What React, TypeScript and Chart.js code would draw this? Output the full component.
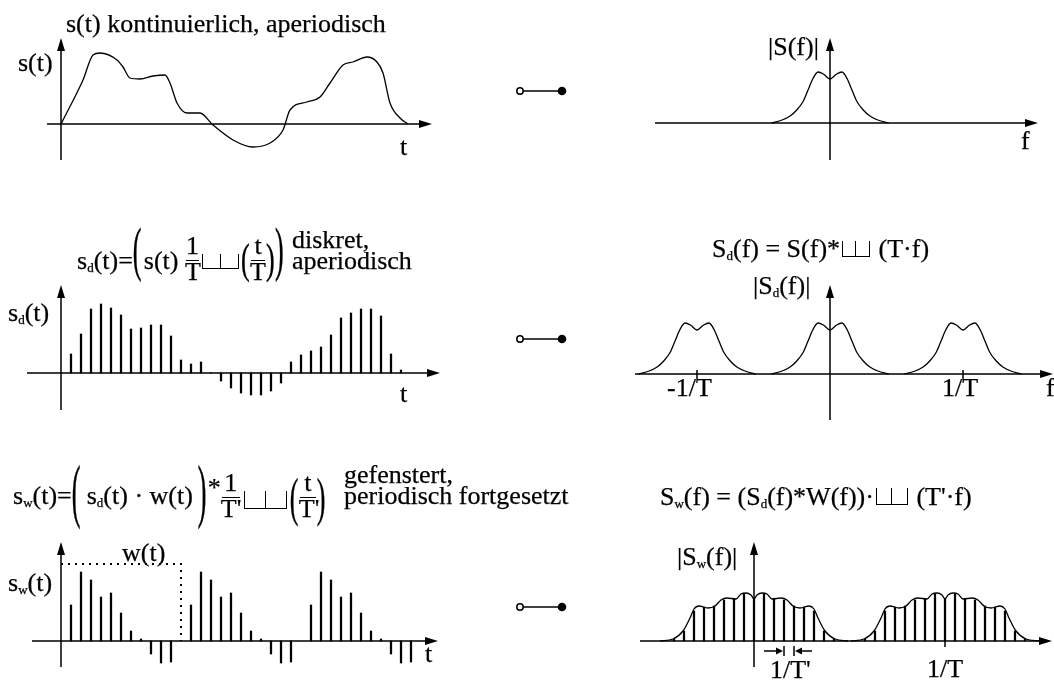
import React, { useEffect, useRef } from "react";
import { Chart, registerables } from "chart.js";
Chart.register(...registerables);

// ================= DATA =================
// Row 1: continuous signal s(t); t in units of the sampling period T, amplitude in arbitrary units
const S_T = [0, 2.2, 3.2, 3.9, 5.6, 6.2, 6.9, 7.9, 9.2, 10.4, 10.9, 11.6, 12.6, 13.9, 15.2, 17.2, 19.2, 20.9, 22.2, 22.9, 24.6, 25.9, 26.9, 28.2, 29.2, 30.6, 31.6, 32.2, 32.9, 33.9, 34.7];
const S_VAL = [0, 44, 69, 71, 64, 57, 46, 45, 48, 49, 41, 21, 11, 11, -1, -16, -23, -19, -6, 14, 22, 27, 41, 59, 62, 67, 62, 51, 21, 6, 0];

// |S(f)| : one spectral hump; f in units of 1/T
const HUMP_F = [-0.44, -0.36, -0.3, -0.25, -0.2, -0.165, -0.13, -0.09, -0.05, 0, 0.05, 0.09, 0.13, 0.165, 0.2, 0.25, 0.3, 0.36, 0.44];
const HUMP_VAL = [0, 3, 7, 13, 22, 33, 44, 51, 49, 44, 49, 51, 44, 33, 22, 13, 7, 3, 0];

// Row 2: samples s_d(kT)
const SD_K = [1, 2, 3, 4, 5, 6, 7, 8, 9, 10, 11, 12, 13, 14, 15, 16, 17, 18, 19, 20, 21, 22, 23, 24, 25, 26, 27, 28, 29, 30, 31, 32, 33, 34];
const SD_VAL = [19, 39, 64, 69, 65, 58, 44, 45, 48, 48, 37, 13, 9, 11, 0, -8, -15, -20, -22, -22, -18, -10, 11, 18, 22, 26, 38, 55, 60, 64, 64, 57, 19, 3];
// spectral copies of |S_d(f)| at k/T
const SD_COPIES = [-1, 0, 1];
const SD_TICKS = [-1, 1];

// Row 3: windowed samples inside one window (k = 1..11), window length T' = 12 T
const SW_K = [1, 2, 3, 4, 5, 6, 7, 8, 9, 10, 11];
const SW_VAL = [36, 69, 61, 44, 48, 28, 10, 2, -13, -22, -21];
const SW_REPEATS = [0, 1, 2];
const T_WINDOW = 12;
const W_LEVEL = 77;

// |S_w(f)| : envelope and spectral lines; f in units of 1/T'
const ENV_F = [-9.4, -8.1, -7.1, -6.4, -6.0, -5.5, -4.6, -3.9, -3.3, -2.7, -1.8, -1.3, -0.8, -0.3, 0, 0.3, 0.8, 1.3, 1.8, 2.7, 3.3, 3.9, 4.6, 5.5, 6.0, 6.4, 7.1, 8.1, 9.4];
const ENV_VAL = [0, 2, 10, 23, 32, 35, 33, 35, 41, 43, 42, 47, 48, 46, 42, 46, 48, 47, 42, 43, 41, 35, 33, 35, 32, 23, 10, 2, 0];
const LINE_K = [-8, -7, -6, -5, -4, -3, -2, -1, 0, 1, 2, 3, 4, 5, 6, 7, 8];
const LINE_VAL = [2, 10, 30, 34, 35, 41, 42, 47, 42, 47, 42, 41, 35, 34, 30, 10, 2];
const SPEC_PERIOD_W = 19.1; // 1/T expressed in units of 1/T'
const SW_SPEC_COPIES = [0, 1];
const ARROW_K = [3, 4];

// ================= LAYOUT =================
const F = "'Liberation Serif','Times New Roman',Times,serif";
const BASE = 0.8375;

type Frame = {
  left: number; top: number; width: number; height: number;
  ox: number; oy: number; kx: number; ky: number;
  ax: [number, number]; ay: [number, number];
};

const LINE_STYLE = {
  type: "line" as const,
  showLine: true,
  borderColor: "#000",
  borderWidth: 1.3,
  pointRadius: 0,
  fill: false,
  cubicInterpolationMode: "monotone" as const,
};
const BAR_STYLE = {
  type: "bar" as const,
  backgroundColor: "#000",
  borderWidth: 0,
  barThickness: 1.6,
};

function makeAxesPlugin(fr: Frame, extra?: (ctx: CanvasRenderingContext2D, X: (v: number) => number, Y: (v: number) => number) => void) {
  return {
    id: "axesArrows",
    beforeDatasetsDraw(chart: any) {
      const ctx: CanvasRenderingContext2D = chart.ctx;
      const X = (v: number) => chart.scales.x.getPixelForValue(v);
      const Y = (v: number) => chart.scales.y.getPixelForValue(v);
      ctx.save();
      ctx.strokeStyle = "#000";
      ctx.fillStyle = "#000";
      ctx.lineWidth = 1.5;
      const x0 = X(0), y0 = Y(0);
      const xa = X(fr.ax[0]), xb = X(fr.ax[1]);
      const ya = Y(fr.ay[0]), yb = Y(fr.ay[1]);
      const L = 13, H = 4;
      ctx.beginPath();
      ctx.moveTo(xa, y0); ctx.lineTo(xb - L + 2, y0);
      ctx.moveTo(x0, ya); ctx.lineTo(x0, yb + L - 2);
      ctx.stroke();
      ctx.beginPath();
      ctx.moveTo(xb, y0); ctx.lineTo(xb - L, y0 - H); ctx.lineTo(xb - L, y0 + H); ctx.closePath();
      ctx.fill();
      ctx.beginPath();
      ctx.moveTo(x0, yb); ctx.lineTo(x0 - H, yb + L); ctx.lineTo(x0 + H, yb + L); ctx.closePath();
      ctx.fill();
      if (extra) extra(ctx, X, Y);
      ctx.restore();
    },
  };
}

function Panel({ fr, datasets, extra }: { fr: Frame; datasets: () => any[]; extra?: any }) {
  const ref = useRef<HTMLCanvasElement>(null);
  useEffect(() => {
    const { left, top, width, height, ox, oy, kx, ky } = fr;
    const chart = new Chart(ref.current as HTMLCanvasElement, {
      type: "scatter",
      data: { datasets: datasets() },
      options: {
        animation: false,
        responsive: false,
        events: [],
        layout: { padding: 0, autoPadding: false } as any,
        plugins: { legend: { display: false }, tooltip: { enabled: false }, title: { display: false } },
        scales: {
          x: { type: "linear", display: false, bounds: "data", offset: false, min: (left - ox) / kx, max: (left + width - ox) / kx },
          y: { type: "linear", display: false, bounds: "data", min: -(top + height - oy) / ky, max: (oy - top) / ky },
        },
      } as any,
      plugins: [makeAxesPlugin(fr, extra) as any],
    });
    return () => chart.destroy();
  }, []);
  return (
    <canvas
      ref={ref}
      width={fr.width}
      height={fr.height}
      style={{ position: "absolute", left: fr.left, top: fr.top, width: fr.width, height: fr.height }}
    />
  );
}

const P1L: Frame = { left: 20, top: 28, width: 432, height: 145, ox: 61, oy: 124, kx: 10, ky: 1, ax: [-1.4, 37.1], ay: [-36, 86] };
const P1R: Frame = { left: 630, top: 28, width: 424, height: 145, ox: 830, oy: 123, kx: 133, ky: 1, ax: [-1.316, 1.564], ay: [-37, 85] };
const P2L: Frame = { left: 15, top: 275, width: 440, height: 150, ox: 61, oy: 373, kx: 10, ky: 1, ax: [-3.4, 37.9], ay: [-37, 88] };
const P2R: Frame = { left: 625, top: 275, width: 429, height: 150, ox: 830, oy: 374, kx: 133, ky: 1, ax: [-1.466, 1.677], ay: [-46, 89] };
const P3L: Frame = { left: 20, top: 532, width: 440, height: 145, ox: 61, oy: 641, kx: 10, ky: 1, ax: [-2.9, 37.7], ay: [-26, 99] };
const P3R: Frame = { left: 630, top: 532, width: 424, height: 145, ox: 754, oy: 641, kx: 10, ky: 1, ax: [-11.4, 29.8], ay: [-26, 99] };

// ================= TEXT HELPERS =================
function Txt({ x, b, size = 26, children }: any) {
  return (
    <div style={{ position: "absolute", left: x, top: b - BASE * size, fontSize: size, lineHeight: `${size}px`, whiteSpace: "nowrap", fontFamily: F, color: "#000", WebkitTextStroke: "0.25px #000" } as any}>
      {children}
    </div>
  );
}
const Sub = ({ c }: { c: string }) => (
  <span style={{ fontSize: 13, verticalAlign: "-3px", lineHeight: 0 }}>{c}</span>
);
const Anchor = ({ w, children }: any) => (
  <span style={{ display: "inline-block", position: "relative", width: w, height: 0, verticalAlign: "baseline" }}>{children}</span>
);
function Frac({ n, d, w, up = 9, size = 26 }: any) {
  return (
    <Anchor w={w}>
      <span style={{ position: "absolute", left: 0, width: w, textAlign: "center", top: -up - 5 - BASE * size, lineHeight: `${size}px` }}>{n}</span>
      <span style={{ position: "absolute", left: 1, width: w - 2, top: -up, height: 0, borderTop: "1.3px solid #000" }} />
      <span style={{ position: "absolute", left: 0, width: w, textAlign: "center", top: -up + 21 - BASE * size, lineHeight: `${size}px` }}>{d}</span>
    </Anchor>
  );
}
function Paren({ ch, w, scale, center, dx = 0, size = 26 }: any) {
  const gc = 0.25 * size;
  return (
    <Anchor w={w}>
      <span style={{ position: "absolute", left: dx, top: -BASE * size, lineHeight: `${size}px`, transformOrigin: `50% ${BASE * size - gc}px`, transform: `translateY(${gc - center}px) scaleY(${scale})` }}>{ch}</span>
    </Anchor>
  );
}
function Shah({ w, h, pad = 2, drop = 0 }: any) {
  return (
    <Anchor w={w + 2 * pad}>
      <span style={{ position: "absolute", left: pad, top: -h + drop, width: w, height: h, boxSizing: "border-box", borderLeft: "1.5px solid #000", borderRight: "1.5px solid #000", borderBottom: "1.5px solid #000" }} />
      <span style={{ position: "absolute", left: pad + w / 2 - 0.75, top: -h + drop, width: 0, height: h, borderLeft: "1.5px solid #000" }} />
    </Anchor>
  );
}

// ================= APP =================
export default function App() {
  return (
    <div style={{ position: "fixed", left: 0, top: 0, width: 1054, height: 686, background: "#fff", overflow: "hidden", fontFamily: F }}>
      <Panel fr={P1L} datasets={() => [{ ...LINE_STYLE, data: S_T.map((t, i) => ({ x: t, y: S_VAL[i] })) }]} />
      <Panel fr={P1R} datasets={() => [{ ...LINE_STYLE, data: HUMP_F.map((f, i) => ({ x: f, y: HUMP_VAL[i] })) }]} />
      <Panel fr={P2L} datasets={() => [{ ...BAR_STYLE, data: SD_K.map((k, i) => ({ x: k, y: SD_VAL[i] })) }]} />
      <Panel
        fr={P2R}
        datasets={() => SD_COPIES.map((c) => ({ ...LINE_STYLE, data: HUMP_F.map((f, i) => ({ x: f + c, y: HUMP_VAL[i] })) }))}
        extra={(ctx: CanvasRenderingContext2D, X: any, Y: any) => {
          ctx.beginPath();
          SD_TICKS.forEach((t) => { ctx.moveTo(X(t), Y(4)); ctx.lineTo(X(t), Y(-5)); });
          ctx.stroke();
        }}
      />
      <Panel
        fr={P3L}
        datasets={() => [
          { ...BAR_STYLE, data: SW_REPEATS.flatMap((r) => SW_K.map((k, i) => ({ x: k + r * T_WINDOW, y: SW_VAL[i] }))) },
          { ...LINE_STYLE, cubicInterpolationMode: "default", tension: 0, borderWidth: 2, borderDash: [2, 5], data: [{ x: 0, y: W_LEVEL }, { x: T_WINDOW, y: W_LEVEL }, { x: T_WINDOW, y: 0 }] },
        ]}
      />
      <Panel
        fr={P3R}
        datasets={() => [
          ...SW_SPEC_COPIES.map((c) => ({ ...LINE_STYLE, data: ENV_F.map((f, i) => ({ x: f + c * SPEC_PERIOD_W, y: ENV_VAL[i] })) })),
          { ...BAR_STYLE, data: SW_SPEC_COPIES.flatMap((c) => LINE_K.map((k, i) => ({ x: k + c * SPEC_PERIOD_W, y: LINE_VAL[i] }))) },
        ]}
        extra={(ctx: CanvasRenderingContext2D, X: any, Y: any) => {
          // 1/T tick
          ctx.beginPath();
          ctx.moveTo(X(SPEC_PERIOD_W), Y(0)); ctx.lineTo(X(SPEC_PERIOD_W), Y(-6));
          ctx.stroke();
          // 1/T' spacing arrows
          const ya = Y(-10);
          const a = X(ARROW_K[0]), b = X(ARROW_K[1]);
          ctx.beginPath();
          ctx.moveTo(a - 20, ya); ctx.lineTo(a - 6, ya);
          ctx.moveTo(a, ya - 5); ctx.lineTo(a, ya + 5);
          ctx.moveTo(b + 18, ya); ctx.lineTo(b + 6, ya);
          ctx.moveTo(b, ya - 5); ctx.lineTo(b, ya + 5);
          ctx.stroke();
          ctx.beginPath();
          ctx.moveTo(a - 1, ya); ctx.lineTo(a - 8, ya - 3.5); ctx.lineTo(a - 8, ya + 3.5); ctx.closePath();
          ctx.moveTo(b + 1, ya); ctx.lineTo(b + 8, ya - 3.5); ctx.lineTo(b + 8, ya + 3.5); ctx.closePath();
          ctx.fill();
        }}
      />

      <svg width={1054} height={686} style={{ position: "absolute", left: 0, top: 0, pointerEvents: "none" }}>
        {[91, 339, 607].map((y) => (
          <g key={y}>
            <line x1={523} y1={y} x2={560} y2={y} stroke="#000" strokeWidth={1.5} />
            <circle cx={520} cy={y} r={3.2} fill="#fff" stroke="#000" strokeWidth={1.5} />
            <circle cx={562} cy={y} r={4.3} fill="#000" />
          </g>
        ))}
      </svg>

      {/* Row 1 */}
      <Txt x={66} b={33}>s(t) kontinuierlich, aperiodisch</Txt>
      <Txt x={18} b={72}>s(t)</Txt>
      <Txt x={400} b={156}>t</Txt>
      <Txt x={768} b={56}>|S(f)|</Txt>
      <Txt x={1021} b={150}>f</Txt>

      {/* Row 2 */}
      <Txt x={77} b={270}>
        s<Sub c="d" />(t)=<Paren ch="(" w={11} scale={2.3} center={12.5} />s(t)&nbsp;<Frac n="1" d="T" w={15} />
        <Shah w={37} h={15} pad={2} />
        <Paren ch="(" w={9} scale={1.62} center={5} />
        <Frac n="t" d="T" w={16} />
        <Paren ch=")" w={9} scale={1.62} center={5} />
        <Paren ch=")" w={11} scale={2.3} center={12.5} />
      </Txt>
      <Txt x={292} b={249}>diskret,</Txt>
      <Txt x={292} b={270}>aperiodisch</Txt>
      <Txt x={8} b={322}>s<Sub c="d" />(t)</Txt>
      <Txt x={400} b={403}>t</Txt>
      <Txt x={712} b={258}>
        S<Sub c="d" />(f) = S(f)*<Shah w={28} h={16} pad={2} /> (T·f)
      </Txt>
      <Txt x={753} b={295}>|S<Sub c="d" />(f)|</Txt>
      <Txt x={667} b={397}>-1/T</Txt>
      <Txt x={942} b={397}>1/T</Txt>
      <Txt x={1046} b={397}>f</Txt>

      {/* Row 3 */}
      <Txt x={13} b={505}>
        s<Sub c="w" />(t)=<Paren ch="(" w={15} scale={2.7} center={5} />s<Sub c="d" />(t) · w(t)
        <Paren ch=")" w={15} dx={5} scale={2.7} center={5} />
        <span style={{ verticalAlign: "8px", lineHeight: 0 }}>*</span>
        <Frac n="1" d="T'" w={20} up={7} />
        <Shah w={43} h={18} pad={3} drop={5} />
        <Paren ch="(" w={9} scale={2.0} center={0} />
        <Frac n="t" d="T'" w={18} up={7} />
        <Paren ch=")" w={9} scale={2.0} center={0} />
      </Txt>
      <Txt x={344} b={484}>gefenstert,</Txt>
      <Txt x={344} b={505}>periodisch fortgesetzt</Txt>
      <Txt x={8} b={592}>s<Sub c="w" />(t)</Txt>
      <Txt x={122} b={562}>w(t)</Txt>
      <Txt x={425} b={663}>t</Txt>
      <Txt x={660} b={506}>
        S<Sub c="w" />(f) = (S<Sub c="d" />(f)*W(f))·<Shah w={32} h={17} pad={2} /> (T'·f)
      </Txt>
      <Txt x={677} b={566}>|S<Sub c="w" />(f)|</Txt>
      <Txt x={770} b={679}>1/T'</Txt>
      <Txt x={927} b={678}>1/T</Txt>
    </div>
  );
}
